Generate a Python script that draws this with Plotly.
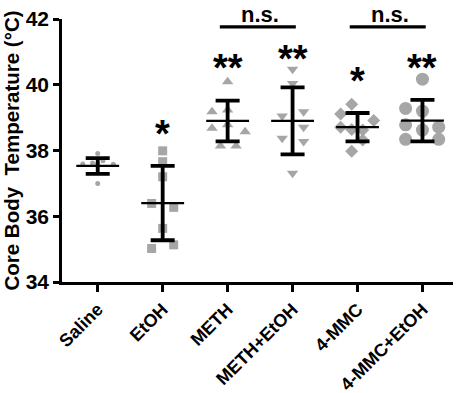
import plotly.graph_objects as go

categories = ["Saline", "EtOH", "METH", "METH+EtOH", "4-MMC", "4-MMC+EtOH"]

saline = [37.91, 37.59, 37.62, 37.69, 37.58, 37.00, 37.55, 37.60]
etoh = [37.99, 37.66, 37.20, 36.39, 36.27, 35.63, 35.02, 35.13]
meth = [40.09, 39.18, 39.23, 38.68, 38.78, 38.57, 38.14, 38.14]
meth_etoh = [40.47, 40.04, 39.05, 39.18, 38.71, 38.37, 38.27, 37.31]
mmc = [39.41, 39.11, 38.91, 38.71, 38.64, 38.62, 38.32, 37.98]
mmc_etoh = [40.17, 39.28, 39.20, 38.78, 38.71, 38.62, 38.34, 38.34]

means = [37.53, 36.40, 38.90, 38.90, 38.71, 38.91]
sds = [0.24, 1.13, 0.62, 1.02, 0.43, 0.63]

significance = ["", "*", "**", "**", "*", "**"]
comparisons = [("METH", "METH+EtOH", "n.s."), ("4-MMC", "4-MMC+EtOH", "n.s.")]

yticks = [34, 36, 38, 40, 42]

series = [saline, etoh, meth, meth_etoh, mmc, mmc_etoh]
# horizontal scatter offsets (category units) and marker styles
offsets = [
    [0, -0.23, -0.08, 0.08, 0.24, 0, 0.0, 0.0],
    [0, 0, 0, -0.17, 0.17, 0, -0.17, 0.17],
    [0, -0.24, 0, -0.24, 0, 0.27, -0.11, 0.13],
    [0, 0, -0.16, 0.17, 0.17, -0.16, 0.17, 0],
    [-0.09, -0.26, 0.25, -0.26, -0.09, 0.08, 0.08, -0.09],
    [0, -0.26, 0, -0.26, 0.25, 0, -0.26, 0.25],
]
symbols = ["circle", "square", "triangle-up", "triangle-down", "diamond", "circle"]
sizes = [5, 9, 10, 10, 10, 13]
grey = "#a6a6a6"
FONT = "Liberation Sans"

fig = go.Figure()
for i, (vals, offs) in enumerate(zip(series, offsets)):
    fig.add_trace(go.Scatter(
        x=[i + o for o in offs], y=vals, mode="markers",
        marker=dict(symbol=symbols[i], size=sizes[i], color=grey, line=dict(width=0)),
        showlegend=False, hoverinfo="y"))

for i in range(len(categories)):
    fig.add_trace(go.Scatter(
        x=[i - 0.33, i + 0.33], y=[means[i], means[i]], mode="lines",
        line=dict(color="black", width=2.2), showlegend=False, hoverinfo="skip"))
    fig.add_trace(go.Scatter(
        x=[i], y=[means[i]], mode="markers",
        marker=dict(size=1, color="rgba(0,0,0,0)"),
        error_y=dict(type="data", array=[sds[i]], color="black", thickness=3.8, width=12),
        showlegend=False, hoverinfo="skip"))

star_y = [None, 38.3, 40.3, 40.57, 39.9, 40.3]
for i, s in enumerate(significance):
    if s:
        fig.add_annotation(x=i, y=star_y[i], text="<b>" + s + "</b>", showarrow=False,
                           font=dict(size=38, color="black", family=FONT),
                           xanchor="center", yanchor="middle", yshift=7)

line_y = 41.76
for a, b, lab in comparisons:
    ia, ib = categories.index(a), categories.index(b)
    fig.add_shape(type="line", x0=ia - 0.12, x1=ib + 0.05, y0=line_y, y1=line_y,
                  xref="x", yref="y", line=dict(color="black", width=3.2))
    fig.add_annotation(x=(ia + ib) / 2, y=line_y, text="<b>" + lab + "</b>", showarrow=False,
                       font=dict(size=22, color="black", family=FONT),
                       xanchor="center", yanchor="bottom", yshift=-1, borderpad=0)

fig.update_layout(
    width=457, height=393,
    margin=dict(l=62, r=4, t=19, b=111),
    plot_bgcolor="white", paper_bgcolor="white",
    font=dict(family=FONT, color="black"),
)
fig.update_xaxes(
    range=[-0.55, 5.47], tickmode="array", tickvals=list(range(len(categories))),
    ticktext=categories, tickangle=-45, automargin=False,
    tickfont=dict(size=18, weight="bold", family=FONT),
    showline=True, linecolor="black", linewidth=2.5,
    ticks="outside", ticklen=7, tickwidth=2.5, tickcolor="black",
    showgrid=False, zeroline=False,
)
fig.update_yaxes(
    range=[34, 42], tickvals=yticks, automargin=False,
    tickfont=dict(size=21, weight="bold", family=FONT),
    showline=True, linecolor="black", linewidth=2.5,
    ticks="outside", ticklen=6, tickwidth=2.5, tickcolor="black",
    showgrid=False, zeroline=False,
    title=dict(text="Core Body  Temperature (°C)", standoff=6,
               font=dict(size=20.5, weight="bold", family=FONT)),
)

fig.write_html("out.html", config={"displayModeBar": False},
               post_script="document.body.style.margin='0';document.body.style.overflow='hidden';")
